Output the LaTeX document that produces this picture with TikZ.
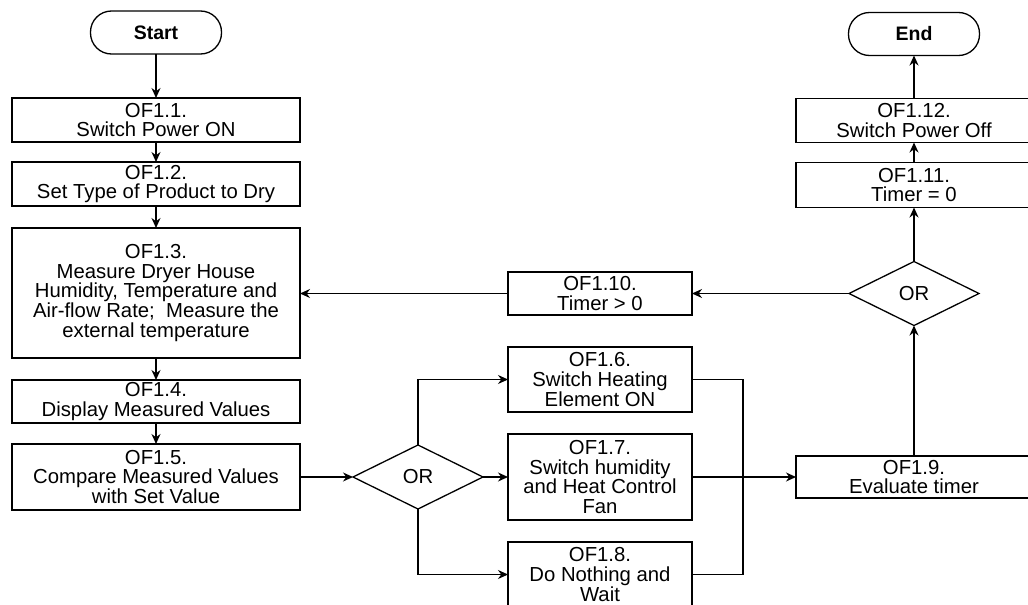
\documentclass[tikz,border=0pt]{standalone}
\usepackage{fontspec}
\setmainfont{Liberation Sans}
\usepackage{tikz}
\usetikzlibrary{arrows.meta,positioning,shapes.geometric}
\tikzset{
  opbox/.style={
    draw=black, line width=1.3pt, fill=white, outer sep=0pt,
    align=center, font=\fontsize{20.3}{19.6}\selectfont,
    inner xsep=2pt, inner ysep=0pt, minimum width=288pt},
  opbox_mid/.style={opbox, minimum width=184pt},
  opbox_right/.style={opbox, minimum width=236pt},
  termbox/.style={
    draw=black, line width=1.3pt, rounded corners=21pt, fill=white, outer sep=0pt,
    font=\fontsize{19.5}{19.6}\selectfont\bfseries,
    inner sep=0pt, minimum width=131pt, minimum height=43pt},
  orbox/.style={
    diamond, draw=black, line width=1.3pt, fill=white, inner sep=0pt, outer sep=0pt,
    font=\fontsize{20.3}{19.6}\selectfont,
    minimum width=130pt, minimum height=64pt},
  flowarrow/.style={-{Stealth[length=10pt,width=9pt]}, line width=1.3pt},
  flowline/.style={line width=1.3pt},
}

\begin{document}
\begin{tikzpicture}[x=1pt, y=-1pt]
  \useasboundingbox (0,0) rectangle (1028,605);
  \clip (0,0) rectangle (1028,605);
  % left column
  \node[termbox] (start) at (156,32.5) {Start};
  \node[opbox, minimum height=44pt, below=44pt of start] (of11) {OF1.1.\\Switch Power ON};
  \node[opbox, minimum height=44pt, below=20pt of of11] (of12) {OF1.2.\\Set Type of Product to Dry};
  \node[opbox, minimum height=130pt, below=22pt of of12] (of13)
    {OF1.3.\\Measure Dryer House\\Humidity, Temperature and\\Air-flow Rate;~ Measure the\\external temperature};
  \node[opbox, minimum height=43pt, below=22pt of of13] (of14) {OF1.4.\\Display Measured Values};
  \node[opbox, minimum height=66pt, below=21pt of of14] (of15) {OF1.5.\\Compare Measured Values\\with Set Value};
  % branches
  \node[orbox, right=53pt of of15] (or1) {OR};
  \node[opbox_mid, minimum height=86pt, right=25pt of or1] (of17) {OF1.7.\\Switch humidity\\and Heat Control\\Fan};
  \node[opbox_mid, minimum height=65pt, above=22pt of of17] (of16) {OF1.6.\\Switch Heating\\Element ON};
  \node[opbox_mid, minimum height=65pt, below=22pt of of17] (of18) {OF1.8.\\Do Nothing and\\Wait};
  \node[opbox_mid, minimum height=43pt, above=32pt of of16] (of110) {OF1.10.\\Timer > 0};
  % right column
  \node[opbox_right, minimum height=42pt, right=104pt of of17] (of19) {OF1.9.\\Evaluate timer};
  \node[orbox, right=157pt of of110] (or2) {OR};
  \node[opbox_right, minimum height=45pt, above=54pt of or2] (of111) {OF1.11.\\Timer = 0};
  \node[opbox_right, minimum height=44pt, above=20pt of of111] (of112) {OF1.12.\\Switch Power Off};
  \node[termbox, above=43pt of of112] (end) {End};
  \coordinate (jn) at (743,477);

  \draw[flowarrow] (start) -- (of11);
  \draw[flowarrow] (of11) -- (of12);
  \draw[flowarrow] (of12) -- (of13);
  \draw[flowarrow] (of13) -- (of14);
  \draw[flowarrow] (of14) -- (of15);
  \draw[flowarrow] (of15) -- (or1);
  \draw[flowarrow] (or1.north) |- (of16.west);
  \draw[flowarrow] (or1.east) -- (of17.west);
  \draw[flowarrow] (or1.south) |- (of18.west);
  \draw[flowline] (of16.east) -| (jn) |- (of18.east);
  \draw[flowarrow] (of17.east) -- (of19.west);
  \draw[flowarrow] (of19.north) -- (or2.south);
  \draw[flowarrow] (or2.west) -- (of110.east);
  \draw[flowarrow] (of110.west) -- (of110.west -| of13.east);
  \draw[flowarrow] (or2.north) -- (of111.south);
  \draw[flowarrow] (of111) -- (of112);
  \draw[flowarrow] (of112) -- (end);
\end{tikzpicture}
\end{document}
